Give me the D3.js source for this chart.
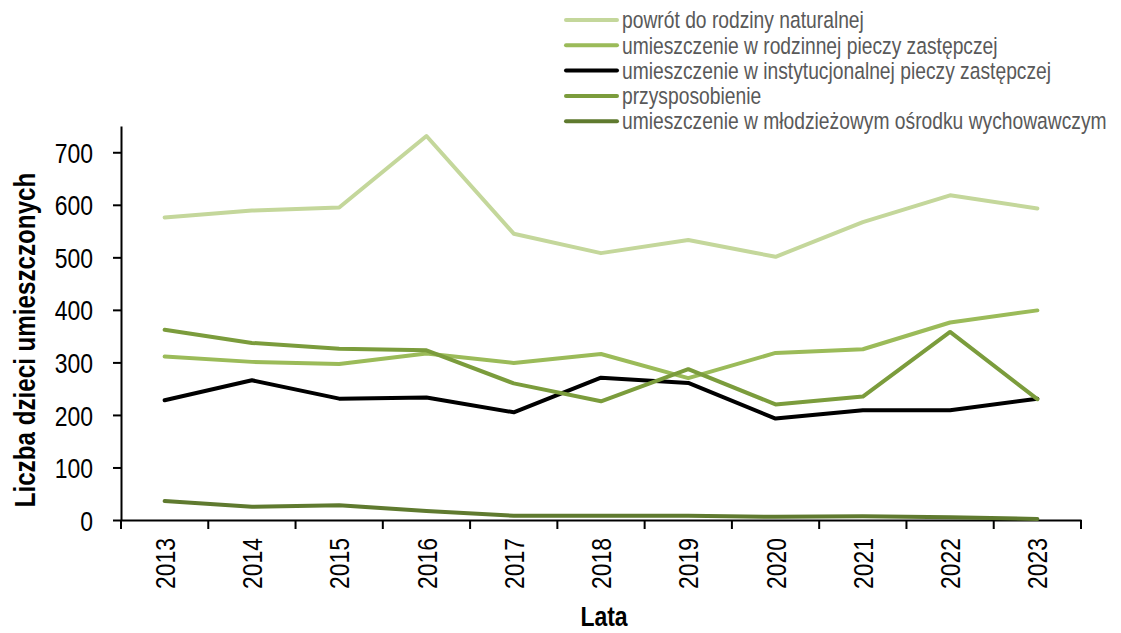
<!DOCTYPE html>
<html lang="pl">
<head>
<meta charset="utf-8">
<title>Umieszczenia dzieci</title>
<script src="https://cdn.jsdelivr.net/npm/d3@7"></script>
<style>
  body { margin: 0; background: #fff; }
  svg { font-family: "Liberation Sans", Arial, sans-serif; }
  .legend text { fill: #595959; font-size: 23.5px; }
  .tick text { font-size: 28px; fill: #000; }
  .title { font-weight: bold; font-size: 28px; }
  .ytitle { font-size: 29.5px; }
</style>
</head>
<body>
<script>
// data
var years = ["2013","2014","2015","2016","2017","2018","2019","2020","2021","2022","2023"];
var seriesNames = [
  "powrót do rodziny naturalnej",
  "umieszczenie w rodzinnej pieczy zastępczej",
  "umieszczenie w instytucjonalnej pieczy zastępczej",
  "przysposobienie",
  "umieszczenie w młodzieżowym ośrodku wychowawczym"
];
var powrot        = [576, 589, 595, 731, 545, 508, 533, 501, 567, 618, 593];
var rodzinna      = [311, 301, 297, 317, 299, 316, 270, 318, 325, 376, 399];
var instytucjonal = [228, 266, 231, 233, 205, 271, 261, 193, 209, 209, 231];
var przysposob    = [362, 337, 326, 323, 260, 226, 287, 220, 235, 358, 230];
var mlodziezowy   = [36, 25, 28, 17, 8, 8, 8, 6, 7, 5, 2];
var colors = ["#c4d79b", "#9bbb59", "#000000", "#7b9c3c", "#5f7a2f"];
var yTicks = [0, 100, 200, 300, 400, 500, 600, 700];

var allSeries = [powrot, rodzinna, instytucjonal, przysposob, mlodziezowy];

// the original uses a narrow face; squeeze Liberation Sans horizontally
var narrow = 0.82;

var width = 1121, height = 633;
var svg = d3.select("body").append("svg")
    .attr("width", width)
    .attr("height", height);

var x = d3.scaleBand().domain(years).range([121, 1081]);
var y = d3.scaleLinear().domain([0, 750]).range([520, 126]);

// y axis
var yAxis = svg.append("g")
    .attr("transform", "translate(121,0)")
    .call(d3.axisLeft(y).tickValues(yTicks).tickSize(8).tickSizeOuter(0));
yAxis.select(".domain").attr("stroke", "#000").attr("stroke-width", 2);
yAxis.selectAll(".tick line").attr("stroke-width", 2);
yAxis.selectAll(".tick text")
    .attr("transform", "scale(" + narrow + ",1)")
    .attr("x", -28 / narrow)
    .attr("dy", "0.36em");

// x axis: labels centred in bands, ticks on boundaries
var xAxis = svg.append("g")
    .attr("transform", "translate(0,520)")
    .call(d3.axisBottom(x).tickSize(0).tickSizeOuter(0));
xAxis.select(".domain").attr("stroke", "#000").attr("stroke-width", 2);
xAxis.selectAll(".tick text")
    .attr("transform", "rotate(-90) scale(" + narrow + ",1)")
    .attr("text-anchor", "end")
    .attr("x", -18 / narrow)
    .attr("y", 0)
    .attr("dy", "0.36em");

var bounds = years.map(function(d) { return x(d); }).concat([x(years[years.length - 1]) + x.bandwidth()]);
xAxis.selectAll(".bnd")
    .data(bounds)
    .enter().append("line")
    .attr("class", "bnd")
    .attr("x1", function(d) { return d; })
    .attr("x2", function(d) { return d; })
    .attr("y1", 0)
    .attr("y2", 9)
    .attr("stroke", "#000")
    .attr("stroke-width", 2);

// lines
var line = d3.line()
    .x(function(d, i) { return x(years[i]) + x.bandwidth() / 2; })
    .y(function(d) { return y(d); });

svg.selectAll(".series")
    .data(allSeries)
    .enter().append("path")
    .attr("class", "series")
    .attr("fill", "none")
    .attr("stroke", function(d, i) { return colors[i]; })
    .attr("stroke-width", 4)
    .attr("stroke-linejoin", "round")
    .attr("stroke-linecap", "round")
    .attr("d", line);

// legend
var legend = svg.append("g").attr("class", "legend");
var rows = legend.selectAll("g")
    .data(seriesNames)
    .enter().append("g")
    .attr("transform", function(d, i) { return "translate(566," + (20 + i * 25.3) + ")"; });
rows.append("line")
    .attr("x1", 0).attr("x2", 51)
    .attr("stroke", function(d, i) { return colors[i]; })
    .attr("stroke-width", 4)
    .attr("stroke-linecap", "round");
rows.append("text")
    .attr("transform", "translate(56,0) scale(" + narrow + ",1)")
    .attr("dy", "0.35em")
    .text(function(d) { return d; });

// axis titles
svg.append("text")
    .attr("class", "title ytitle")
    .attr("transform", "translate(35,340) rotate(-90) scale(" + narrow + ",1)")
    .attr("text-anchor", "middle")
    .text("Liczba dzieci umieszczonych");

svg.append("text")
    .attr("class", "title")
    .attr("transform", "translate(604,626) scale(" + narrow + ",1)")
    .attr("text-anchor", "middle")
    .text("Lata");
</script>
</body>
</html>
